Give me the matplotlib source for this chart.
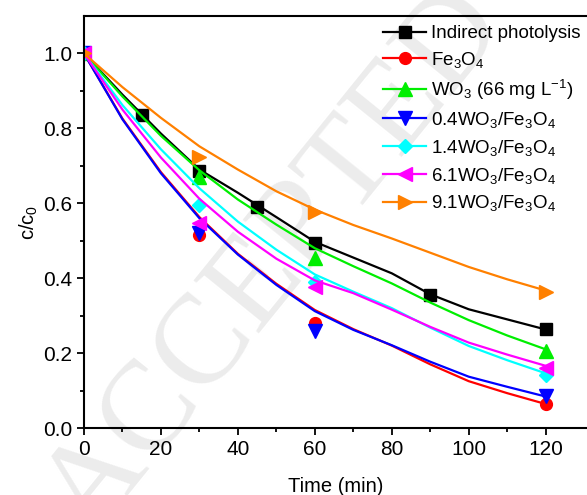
import matplotlib
matplotlib.use("Agg")
import matplotlib.pyplot as plt
from matplotlib.lines import Line2D

plt.rcParams["font.family"] = ["Liberation Sans", "DejaVu Sans"]
plt.rcParams["mathtext.default"] = "regular"

# measured points
t_ind = [0, 15, 30, 45, 60, 90, 120]
c_ind = [1.0, 0.835, 0.685, 0.59, 0.495, 0.355, 0.265]
t_pts = [0, 30, 60, 120]
c_fe3o4 = [1.0, 0.515, 0.28, 0.065]
c_wo3 = [1.0, 0.671, 0.454, 0.205]
c_04 = [1.0, 0.52, 0.26, 0.085]
c_14 = [1.0, 0.595, 0.39, 0.142]
c_61 = [1.0, 0.548, 0.377, 0.16]
c_91 = [1.0, 0.724, 0.577, 0.362]

# fitted curves every 10 min
t_fit = [0, 10, 20, 30, 40, 50, 60, 70, 80, 90, 100, 110, 120]
f_ind = [1.0, 0.890, 0.786, 0.690, 0.628, 0.563, 0.497, 0.455, 0.413, 0.357, 0.317, 0.290, 0.263]
f_fe3o4 = [1.0, 0.826, 0.683, 0.563, 0.465, 0.385, 0.315, 0.264, 0.220, 0.170, 0.125, 0.093, 0.064]
f_wo3 = [1.0, 0.885, 0.780, 0.688, 0.610, 0.543, 0.480, 0.432, 0.386, 0.335, 0.288, 0.247, 0.210]
f_04 = [1.0, 0.824, 0.680, 0.560, 0.463, 0.382, 0.312, 0.262, 0.221, 0.177, 0.137, 0.110, 0.084]
f_14 = [1.0, 0.862, 0.744, 0.640, 0.551, 0.476, 0.410, 0.364, 0.320, 0.268, 0.219, 0.181, 0.146]
f_61 = [1.0, 0.850, 0.722, 0.612, 0.524, 0.452, 0.394, 0.360, 0.316, 0.270, 0.228, 0.196, 0.166]
f_91 = [1.0, 0.910, 0.828, 0.752, 0.690, 0.632, 0.583, 0.542, 0.506, 0.468, 0.430, 0.397, 0.367]

labels = ["Indirect photolysis", "Fe$_3$O$_4$", "WO$_3$ (66 mg L$^{-1}$)",
          "0.4WO$_3$/Fe$_3$O$_4$", "1.4WO$_3$/Fe$_3$O$_4$",
          "6.1WO$_3$/Fe$_3$O$_4$", "9.1WO$_3$/Fe$_3$O$_4$"]
colors = ["black", "#ff0000", "#00ee00", "#0000ff", "#00ffff", "#ff00ff", "#ff8000"]
markers = ["s", "o", "^", "v", "D", "<", ">"]
sizes = [8, 8.5, 9.5, 9.5, 7.5, 9.5, 9.5]

series = [(t_ind, c_ind, f_ind), (t_pts, c_fe3o4, f_fe3o4), (t_pts, c_wo3, f_wo3),
          (t_pts, c_04, f_04), (t_pts, c_14, f_14), (t_pts, c_61, f_61),
          (t_pts, c_91, f_91)]

fig = plt.figure(figsize=(5.87, 4.95), dpi=100)
ax = fig.add_axes([84 / 587, 67 / 495, 504 / 587, 412 / 495])
ax.set_facecolor("none")

# watermark
fig.text(0.47, 0.47, "ACCEPTED", rotation=51, fontsize=92, color="#ececec",
         family="Liberation Serif", ha="center", va="center", zorder=-1)

handles = []
for (t, c, f), col, m, ms, lab in zip(series, colors, markers, sizes, labels):
    ax.plot(t_fit, f, color=col, lw=1.6)
    ax.plot(t, c, ls="none", marker=m, ms=ms, color=col)
    handles.append(Line2D([], [], color=col, lw=1.6, marker=m, ms=ms, label=lab))

ax.set_xlim(0, 131)
ax.set_ylim(0, 1.1)
ax.set_xticks([0, 20, 40, 60, 80, 100, 120])
ax.set_xticks(range(10, 130, 20), minor=True)
ax.set_yticks([0.0, 0.2, 0.4, 0.6, 0.8, 1.0])
ax.set_yticks([0.1, 0.3, 0.5, 0.7, 0.9], minor=True)
ax.set_yticklabels(["0.0", "0.2", "0.4", "0.6", "0.8", "1.0"])
ax.tick_params(which="major", direction="out", length=5, width=1.3, labelsize=15)
ax.tick_params(which="minor", direction="out", length=3, width=1.3)
for s in ["left", "bottom", "top"]:
    ax.spines[s].set_linewidth(1.5)
ax.spines["right"].set_visible(False)

ax.set_xlabel("Time (min)", fontsize=14.5, labelpad=13)
ax.set_ylabel("c/c$_0$", fontsize=14.5, labelpad=2)

fig.legend(handles=handles, loc="upper left", bbox_to_anchor=(383 / 587, 1 - 25 / 495),
           frameon=False, fontsize=13.5, handlelength=2.3, handletextpad=0.25,
           labelspacing=0.42, borderaxespad=0, borderpad=0)

fig.savefig("out.png", dpi=100)
